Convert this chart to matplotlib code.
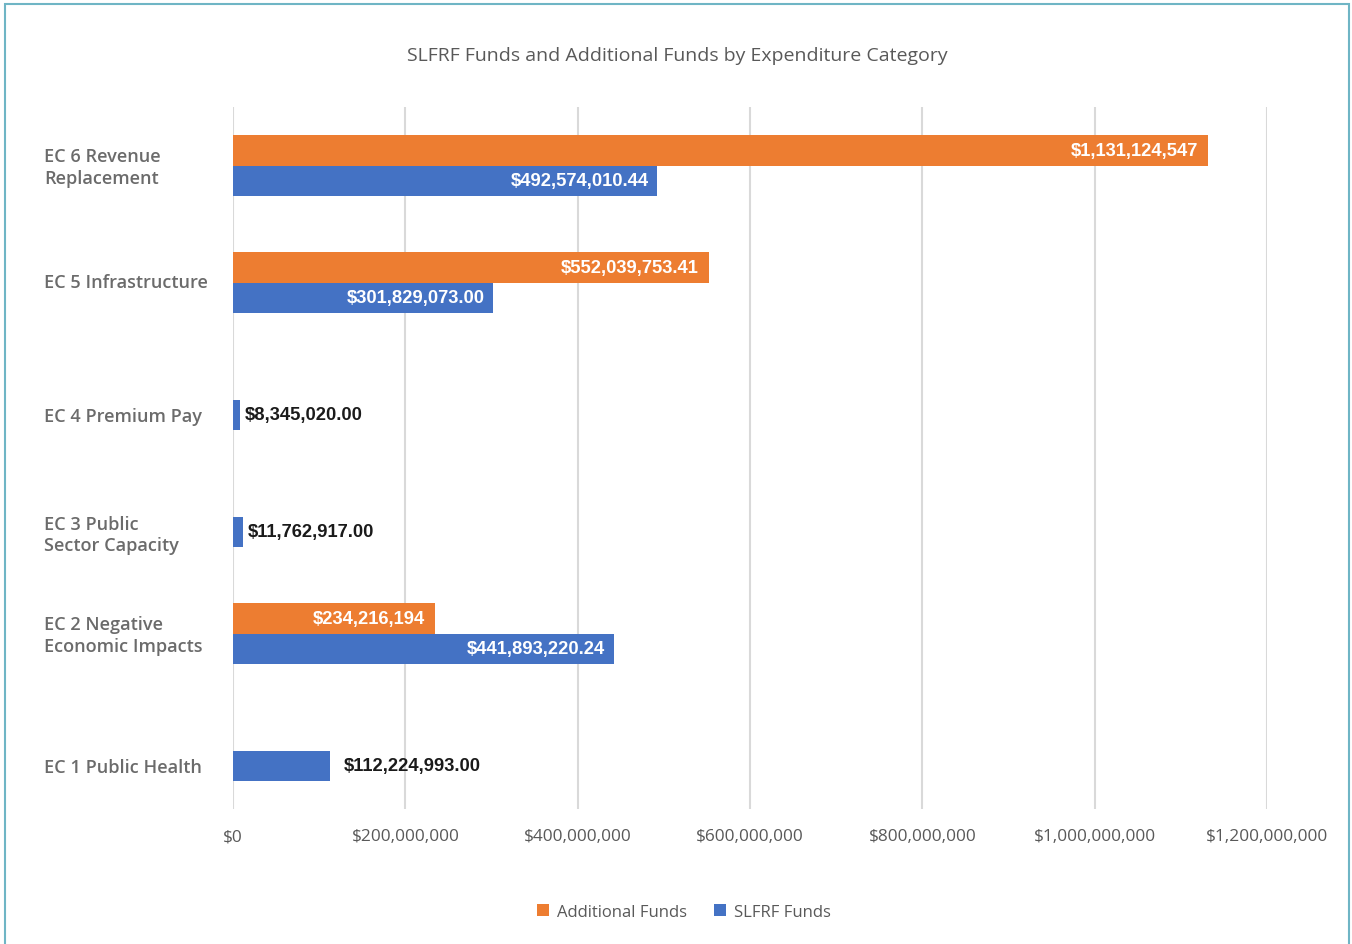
import numpy as np
import matplotlib.pyplot as plt
from matplotlib.patches import Rectangle

categories = ['EC 1 Public Health', 'EC 2 Negative\nEconomic Impacts', 'EC 3 Public\nSector Capacity',
              'EC 4 Premium Pay', 'EC 5 Infrastructure', 'EC 6 Revenue\nReplacement']
additional = [0, 234216194, 0, 0, 552039753.41, 1131124547]
slfrf = [112224993.00, 441893220.24, 11762917.00, 8345020.00, 301829073.00, 492574010.44]
additional_labels = ['', '$234,216,194', '', '', '$552,039,753.41', '$1,131,124,547']
slfrf_labels = ['$112,224,993.00', '$441,893,220.24', '$11,762,917.00', '$8,345,020.00',
                '$301,829,073.00', '$492,574,010.44']
xticks = [0, 200e6, 400e6, 600e6, 800e6, 1000e6, 1200e6]
xtick_labels = ['$0', '$200,000,000', '$400,000,000', '$600,000,000', '$800,000,000',
                '$1,000,000,000', '$1,200,000,000']

orange = '#ed7d31'
blue = '#4472c4'
gray = '#595959'

fig = plt.figure(figsize=(13.52, 9.45), dpi=100)
fig.patches.append(Rectangle((5/1352, -0.01), 1344/1352, 1 - 5/945 + 0.01, transform=fig.transFigure,
                             fill=False, edgecolor='#6fb5c5', linewidth=1.5))
ax = fig.add_axes([233/1352, 1 - 810/945, 1034/1352, 702/945])

y = np.arange(len(categories))
h = 0.26
off = h / 2
ax.barh(y + off, additional, height=h, color=orange, linewidth=0,
        label='Additional Funds', zorder=3)
ax.barh(y - off, slfrf, height=h, color=blue, linewidth=0,
        label='SLFRF Funds', zorder=3)

lab_font = dict(family='Liberation Sans', weight='bold', fontsize=13.2)
for i in range(len(categories)):
    if additional[i] > 0:
        ax.annotate(additional_labels[i], (additional[i], y[i] + off), xytext=(-7, 0),
                    textcoords='offset points', ha='right', va='center', color='white', zorder=4, **lab_font)
    if slfrf[i] > 150e6:
        ax.annotate(slfrf_labels[i], (slfrf[i], y[i] - off), xytext=(-6, 0),
                    textcoords='offset points', ha='right', va='center', color='white', zorder=4, **lab_font)
    else:
        dx = 10 if slfrf[i] > 50e6 else 3
        ax.annotate(slfrf_labels[i], (slfrf[i], y[i] - off), xytext=(dx, 0),
                    textcoords='offset points', ha='left', va='center', color='#1a1a1a', zorder=4, **lab_font)

ax.set_xlim(0, 1200e6)
ax.set_ylim(-0.5, 5.5)
ax.set_xticks(xticks)
ax.set_xticklabels(xtick_labels, family='Open Sans', fontsize=12.4, color=gray)
ax.xaxis.grid(True, color='#d9d9d9', linewidth=1.5, zorder=0)
for s in ax.spines.values():
    s.set_visible(False)
ax.tick_params(axis='x', length=0, pad=14)
ax.tick_params(axis='y', length=0)

ypos = [y[i] + 0.02 if additional[i] > 0 else y[i] - off + 0.01 for i in range(len(categories))]
ax.set_yticks(ypos)
ax.set_yticklabels(categories, family='Open Sans', weight='semibold', fontsize=13.1, color='#6b6b6b',
                   ha='left', linespacing=1.28)
ax.tick_params(axis='y', pad=189 * 0.72)

fig.text(677/1352, 1 - 56/945, 'SLFRF Funds and Additional Funds by Expenditure Category',
         ha='center', va='center', family='Open Sans', fontsize=14.0, color=gray)

fig.legend(loc='center', bbox_to_anchor=(684/1352, 1 - 913/945), ncol=2, frameon=False,
           handlelength=0.7, handleheight=0.7, handletextpad=0.5, columnspacing=1.6,
           prop={'family': 'Open Sans', 'size': 12}, labelcolor=gray)

plt.savefig('out.png', dpi=100)
